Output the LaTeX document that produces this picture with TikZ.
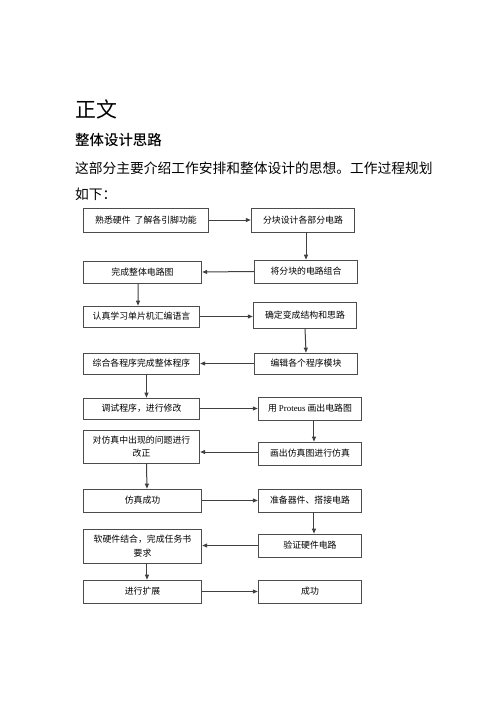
\documentclass[tikz,border=0pt]{standalone}
\usepackage{fontspec}
\setmainfont{Liberation Serif}
\newfontfamily\cjk{Noto Sans CJK SC}
\newfontfamily\cjkbold{Noto Sans CJK SC Medium}
\usetikzlibrary{arrows.meta}
\begin{document}
\begin{tikzpicture}[x=1bp,y=-1bp,
  box/.style={draw=black!70,line width=0.8bp,fill=white,inner sep=1bp,
    font=\cjk\fontsize{8.9}{13.5}\selectfont,align=center},
  arr/.style={draw=black!75,line width=1bp,-{Triangle[length=5bp,width=4bp]}}]
\useasboundingbox (0,0) rectangle (500,707);
% header texts
\node[anchor=west,inner sep=0,font=\cjk\fontsize{21}{24}\selectfont] (title) at (75,109) {正文};
\node[anchor=west,inner sep=0,font=\cjkbold\fontsize{14.5}{17}\selectfont] (head) at (75,140) {整体设计思路};
\node[anchor=west,inner sep=0,font=\cjk\fontsize{13.8}{17}\selectfont] (para1) at (75,168) {这部分主要介绍工作安排和整体设计的思想。工作过程规划};
\node[anchor=west,inner sep=0,font=\cjk\fontsize{13.8}{17}\selectfont] (para2) at (75,194) {如下：};
% boxes
\node[box,minimum width=126,minimum height=24] (b1) at (146,220) {熟悉硬件\ \ 了解各引脚功能};
\node[box,minimum width=104,minimum height=24] (b2) at (303,220) {分块设计各部分电路};
\node[box,minimum width=104,minimum height=23] (b3) at (306,271.5) {将分块的电路组合};
\node[box,minimum width=119,minimum height=22] (b4) at (142.5,272) {完成整体电路图};
\node[box,minimum width=117,minimum height=21] (b5) at (141.5,316.5) {认真学习单片机汇编语言};
\node[box,minimum width=104,minimum height=26] (b6) at (305,315) {确定变成结构和思路};
\node[box,minimum width=117,minimum height=21] (b7) at (141.5,363.5) {综合各程序完成整体程序};
\node[box,minimum width=104,minimum height=21] (b8) at (306,363.5) {编辑各个程序模块};
\node[box,minimum width=117,minimum height=21] (b9) at (141.5,408.5) {调试程序，进行修改};
\node[box,minimum width=104,minimum height=23] (b10) at (310,408.5) {用 {\rmfamily Proteus} 画出电路图};
\node[box,minimum width=117,minimum height=33] (b11) at (141.5,446.5) {对仿真中出现的问题进行\\改正};
\node[box,minimum width=104,minimum height=23] (b12) at (310,453.5) {画出仿真图进行仿真};
\node[box,minimum width=119,minimum height=23] (b13) at (142.5,500.5) {仿真成功};
\node[box,minimum width=104,minimum height=23] (b14) at (310,500.5) {准备器件、搭接电路};
\node[box,minimum width=119,minimum height=34] (b15) at (142.5,546) {软硬件结合，完成任务书\\要求};
\node[box,minimum width=104,minimum height=23] (b16) at (310,545.5) {验证硬件电路};
\node[box,minimum width=119,minimum height=23] (b17) at (142.5,591.5) {进行扩展};
\node[box,minimum width=104,minimum height=23] (b18) at (310,591.5) {成功};
% connectors
\draw[arr] (b1.east) -- (b2.west);
\draw[arr] ([xshift=3]b2.south) -- (b2.south -| b3.north) -- (b3.north);
\draw[arr] (b3.west) -- (b4.east);
\draw[arr] ([xshift=-4.5]b4.south) -- ([xshift=-3.5]b5.north);
\draw[arr] (b5.east) -- (b5.east -| b6.west);
\draw[arr] (b6.south) -- (b8.north);
\draw[arr] (b8.west) -- (b7.east);
\draw[arr] ([xshift=5]b7.south) -- ([xshift=5]b9.north);
\draw[arr] (b9.east) -- (b9.east -| b10.west);
\draw[arr] ([xshift=4]b10.south) -- ([xshift=4]b12.north);
\draw[arr] ([yshift=1.5]b12.west) -- ([yshift=1.5]b12.west -| b11.east);
\draw[arr] ([xshift=5]b11.south) -- ([xshift=4.5]b13.north);
\draw[arr] (b13.east) -- (b14.west);
\draw[arr] ([xshift=4]b14.south) -- ([xshift=4]b16.north);
\draw[arr] (b16.west) -- (b16.west -| b15.east);
\draw[arr] ([xshift=4.5]b15.south) -- ([xshift=4.5]b17.north);
\draw[arr] (b17.east) -- (b18.west);
\end{tikzpicture}
\end{document}
